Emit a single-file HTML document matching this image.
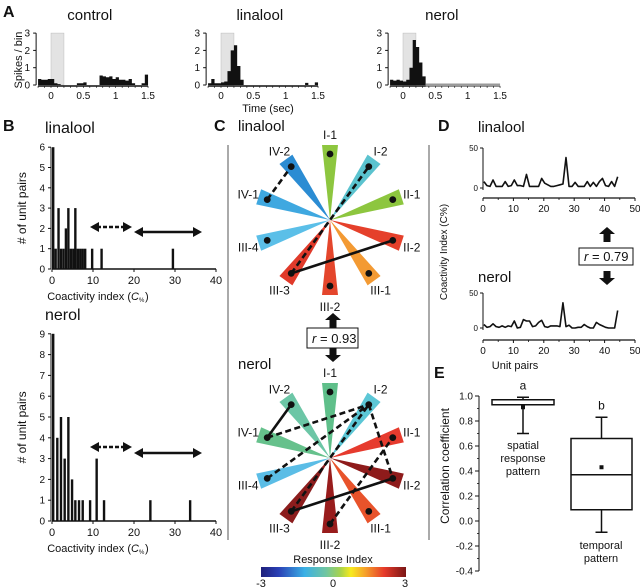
<!DOCTYPE html>
<html><head><meta charset="utf-8">
<style>
body{margin:0;background:#fff;}
svg{display:block;font-family:"Liberation Sans",Arial,sans-serif;}
</style></head>
<body>
<svg id="fig" width="640" height="588" viewBox="0 0 640 588" xmlns="http://www.w3.org/2000/svg">
<g id="root"></g>
</svg>
<script>
// ---------- DATA ----------
const psthBins = [-0.2,-0.15,-0.1,-0.05,0,0.05,0.1,0.15,0.2,0.25,0.3,0.35,0.4,0.45,0.5,0.55,0.6,0.65,0.7,0.75,0.8,0.85,0.9,0.95,1.0,1.05,1.1,1.15,1.2,1.25,1.3,1.35,1.4,1.45];
const psthControl = [0.35,0.3,0.3,0.35,0.35,0.1,0.05,0,0,0,0,0,0.1,0.1,0.15,0,0,0,0,0.55,0.5,0.45,0.5,0.35,0.45,0.3,0.3,0.25,0.35,0.1,0,0,0.1,0.6];
const psthLinalool = [0.1,0.35,0.1,0.1,0.15,0.2,0.8,2.0,2.3,1.1,0.3,0,0,0,0,0,0,0,0,0,0,0,0,0,0,0,0,0,0,0,0.12,0,0,0.15];
const psthNerol = [0.3,0.25,0.3,0.25,0.2,0.3,1.0,2.6,2.2,1.3,0.5,0,0,0,0,0,0,0,0,0,0,0,0,0,0,0,0,0,0,0,0,0,0,0];
const psthTicks = [0,0.5,1,1.5];
const psthYTicks = [0,1,2,3];

const histLinX = [0,0.6,1.3,1.9,2.5,3.1,3.7,4.3,4.9,5.4,6.0,6.6,7.2,7.8,9.5,11.8,29.2];
const histLinN = [6,1,3,1,1,2,3,1,1,3,1,1,1,1,1,1,1];
const histNerX = [0,1,1.9,2.8,3.7,4.6,5.4,6.3,7.2,9,10.6,12.4,23.7,33.4];
const histNerN = [9,4,5,3,5,2,1,1,1,1,3,1,1,1];
const histXTicks = [0,10,20,30,40];

const spokeNames = ['I-1','I-2','II-1','II-2','III-1','III-2','III-3','III-4','IV-1','IV-2'];
const linColors = ['#8dc63f','#5bc3cf','#8dc63f','#e5402b','#f39a33','#e4462c','#e03a2a','#5bbfe8','#3fa8e0','#2b8cd3'];
const nerColors = ['#5fbf8a','#5cc7d6','#e63b2e','#8e1b1b','#e8532b','#981c1c','#8c1d1d','#5bbde6','#66c18c','#6cc6a6'];
const linSolid = [['III-3','II-2']];
const linDashed = [['IV-1','IV-2'],['III-3','I-2']];
const nerSolid = [['IV-1','IV-2'],['III-3','II-2']];
const nerDashed = [['IV-1','I-2'],['III-4','I-2'],['I-2','II-2'],['III-2','II-1'],['III-3','I-2']];

const coLin = [8,3,2,10,2,2,2,8,2,3,10,3,3,2,17,2,2,2,2,12,6,4,2,2,3,4,5,38,2,2,7,2,2,2,8,2,7,2,8,12,3,2,8,2,14];
const coNer = [5,1,2,6,2,1,3,1,3,2,10,0,1,12,10,10,2,3,8,11,2,1,3,3,3,2,36,2,4,0,0,1,1,5,2,0,0,8,5,3,1,0,0,0,25];
const coXTicks = [0,10,20,30,40,50];

const boxNames = ['spatial','temporal'];
const boxQ1 = [0.93,0.09];
const boxQ3 = [0.97,0.66];
const boxMed = [0.93,0.37];
const boxMean = [0.91,0.43];
const boxLo = [0.70,-0.09];
const boxHi = [0.99,0.83];
const boxYTicks = [-0.4,-0.2,0.0,0.2,0.4,0.6,0.8,1.0];

// ---------- HELPERS ----------
const NS='http://www.w3.org/2000/svg';
const root=document.getElementById('root');
function mk(tag, attrs, parent){
  const e=document.createElementNS(NS,tag);
  for(const k in attrs) e.setAttribute(k,attrs[k]);
  (parent||root).appendChild(e);
  return e;
}
function txt(s,x,y,size,anchor,extra){
  const e=mk('text',Object.assign({x:x,y:y,'font-size':size,'text-anchor':anchor||'middle',fill:'#111'},extra||{}));
  e.textContent=s;
  return e;
}
function line(x1,y1,x2,y2,w,dash,color){
  const a={x1:x1,y1:y1,x2:x2,y2:y2,stroke:color||'#111','stroke-width':w||1};
  if(dash) a['stroke-dasharray']=dash;
  return mk('line',a);
}

// ---------- PANEL A ----------
let e;
e=txt('A',3,17,16,'start',{'font-weight':'bold'});


e=txt('Spikes / bin',22,60,11,'middle',{transform:'rotate(-90 22 60)'});


e=txt('Time (sec)',268,112,11);



function drawPSTH(x0,vals,title,key,grayTail){
  const xs=t=>x0+t*64.7, ys=v=>85-v*17.3;
  e=txt(title,xs(0.6),20,15);
  
  
  e=mk('rect',{x:xs(0),y:ys(3),width:xs(0.2)-xs(0),height:ys(0)-ys(3),fill:'#e3e3e3',stroke:'#bbb','stroke-width':0.5});
  
  
  let d='M'+xs(psthBins[0])+','+ys(0);
  for(let i=0;i<vals.length;i++){
    d+=' L'+xs(psthBins[i])+','+ys(vals[i])+' L'+xs(psthBins[i]+0.05)+','+ys(vals[i]);
  }
  d+=' L'+xs(1.5)+','+ys(0)+' Z';
  e=mk('path',{d:d,fill:'#111'});
  
  
  e=line(xs(-0.2),86,xs(1.5),86,1.5);
  
  
  if(grayTail){
    e=line(xs(0.35),85,xs(1.5),85,3,null,'#9a9a9a');
    
    
  }
  for(let t=-0.2;t<=1.501;t+=0.1){
    line(xs(t),86,xs(t),88,0.6);
  }
  psthTicks.forEach(t=>{
    e=txt(String(t),xs(t),99,10);
    
    
  });
  const ax=xs(-0.23);
  e=line(ax,ys(0),ax,ys(3),1);
  
  
  psthYTicks.forEach(v=>{
    line(ax-3,ys(v),ax,ys(v),1);
    e=txt(String(v),ax-6,ys(v)+3.5,10,'end');
    
    
  });
}
drawPSTH(51,psthControl,'control','control',false);
drawPSTH(221,psthLinalool,'linalool','linalool',false);
drawPSTH(403,psthNerol,'nerol','nerol',true);

// ---------- PANEL B ----------
e=txt('B',3,131,16,'start',{'font-weight':'bold'});


function dblArrow(x1,x2,y,dashed,w){
  const g=mk('g',{});
  const a={x1:x1+7,y1:y,x2:x2-7,y2:y,stroke:'#111','stroke-width':w};
  if(dashed) a['stroke-dasharray']='4,2';
  mk('line',a,g);
  mk('polygon',{points:`${x1},${y} ${x1+9},${y-5} ${x1+9},${y+5}`,fill:'#111'},g);
  mk('polygon',{points:`${x2},${y} ${x2-9},${y-5} ${x2-9},${y+5}`,fill:'#111'},g);
  return g;
}
function drawHist(y0,unit,maxN,xsArr,ns,title,titleY,key,arrY1,arrY2){
  const xs=v=>52+v*4.1, ys=n=>y0-n*unit;
  e=txt(title,45,titleY,16,'start');
  
  
  for(let i=0;i<xsArr.length;i++){
    e=mk('rect',{x:xs(xsArr[i]),y:ys(ns[i]),width:2.4,height:ys(0)-ys(ns[i]),fill:'#111'});
    
    
  }
  e=line(xs(0),y0,xs(40),y0,1.5);
  
  
  histXTicks.forEach(v=>{
    line(xs(v),y0,xs(v),y0+3,1);
    e=txt(String(v),xs(v),y0+15,11);
    
    
  });
  e=txt('Coactivity index (',131,y0+31,11,'end');
  
  
  e=txt('C',131,y0+31,11,'start',{'font-style':'italic'});
  txt('%',139,y0+33,6,'start');
  txt(')',145,y0+31,11,'start');
  e=line(xs(0)-1,ys(0),xs(0)-1,ys(maxN),1);
  
  
  for(let n=0;n<=maxN;n++){
    line(xs(0)-4,ys(n),xs(0)-1,ys(n),1);
    e=txt(String(n),xs(0)-7,ys(n)+3.5,10,'end');
    
    
  }
  e=txt('# of unit pairs',26,(ys(0)+ys(maxN))/2,12,'middle',{transform:`rotate(-90 26 ${(ys(0)+ys(maxN))/2})`});
  
  
  e=dblArrow(90,132,arrY1,true,2.5);
  
  
  e=dblArrow(134,202,arrY2,false,2.5);
  
  
}
drawHist(269,20.3,6,histLinX,histLinN,'linalool',133,'linalool',227,232);
drawHist(521,20.8,9,histNerX,histNerN,'nerol',320,'nerol',447,453);

e=line(228,145,228,540,1,null,'#555');


e=line(429,145,429,540,1,null,'#555');



// ---------- PANEL C ----------
e=txt('C',214,131,16,'start',{'font-weight':'bold'});


function drawWheel(cx,cy,colors,solid,dashed,title,titleY,key){
  e=txt(title,238,titleY,15,'start');
  
  
  const pos={};
  for(let i=0;i<spokeNames.length;i++){
    const a=i*36*Math.PI/180;
    const ux=Math.sin(a), uy=-Math.cos(a), px=Math.cos(a), py=Math.sin(a);
    const R=75, hw=8;
    const ex=cx+ux*R, ey=cy+uy*R;
    e=mk('polygon',{points:`${cx},${cy} ${ex+px*hw},${ey+py*hw} ${ex-px*hw},${ey-py*hw}`,fill:colors[i]});
    
    
    const dx=cx+ux*66, dy=cy+uy*66;
    pos[spokeNames[i]]=[dx,dy];
    const lx=cx+ux*86, ly=cy+uy*86;
    e=txt(spokeNames[i],lx,ly+5,12);
    
    
  }
  dashed.forEach(p=>{
    const a=pos[p[0]],b=pos[p[1]];
    e=line(a[0],a[1],b[0],b[1],2.6,'6,3.5');
    
    
  });
  solid.forEach(p=>{
    const a=pos[p[0]],b=pos[p[1]];
    e=line(a[0],a[1],b[0],b[1],2.6);
    
    
  });
  spokeNames.forEach(n=>{
    e=mk('circle',{cx:pos[n][0],cy:pos[n][1],r:3.4,fill:'#111'});
    
    
  });
}
drawWheel(330,220,linColors,linSolid,linDashed,'linalool',131,'linalool');
drawWheel(330,458,nerColors,nerSolid,nerDashed,'nerol',369,'nerol');

function thickArrow(x,yTip,dir,len){
  const h=7*dir;
  return mk('polygon',{points:`${x},${yTip} ${x+8},${yTip+h} ${x+3.5},${yTip+h} ${x+3.5},${yTip+len*dir} ${x-3.5},${yTip+len*dir} ${x-3.5},${yTip+h} ${x-8},${yTip+h}`,fill:'#111'});
}
e=thickArrow(333,313,1,15);


e=thickArrow(333,362,-1,14);


e=mk('rect',{x:307,y:328,width:51,height:20,fill:'#fff',stroke:'#111','stroke-width':1});


e=txt('r',312,343,13,'start',{'font-style':'italic'});


txt('= 0.93',320,343,13,'start');

const defs=mk('defs',{});
const grad=mk('linearGradient',{id:'jet',x1:0,x2:1,y1:0,y2:0},defs);
[['0','#1f1f7a'],['0.12','#2a3fb5'],['0.3','#3ab0e6'],['0.45','#70c6a0'],['0.55','#a9d34a'],['0.62','#f7ea1e'],['0.72','#f6a02a'],['0.85','#e63a2a'],['1','#7a1616']].forEach(s=>mk('stop',{offset:s[0],'stop-color':s[1]},grad));
e=mk('rect',{x:261,y:567,width:145,height:10,fill:'url(#jet)'});


e=txt('Response Index',333,563,11);


[['-3',261],['0',333],['3',405]].forEach(t=>{
  e=txt(t[0],t[1],587,11);
  
  
});

// ---------- PANEL D ----------
e=txt('D',438,131,16,'start',{'font-weight':'bold'});


function drawCo(y0,unit,axisY,vals,title,titleY,key){
  const xs=i=>483+i*3.04, ys=v=>y0-v*unit;
  e=txt(title,478,titleY,15,'start');
  
  
  e=mk('polyline',{points:vals.map((v,i)=>xs(i+0.3)+','+ys(v)).join(' '),fill:'none',stroke:'#111','stroke-width':1.6,'stroke-linejoin':'round'});
  
  
  e=line(483,ys(0)+2,483,ys(50),1);
  
  
  [0,50].forEach(v=>{
    line(480,ys(v),483,ys(v),1);
    e=txt(String(v),478,ys(v)+3,8,'end');
    
    
  });
  e=line(483,axisY,xs(50),axisY,1.2);
  
  
  coXTicks.forEach(v=>{
    line(xs(v),axisY,xs(v),axisY+3,1);
    e=txt(String(v),xs(v),axisY+14,10);
    
    
  });
  for(let v=5;v<50;v+=10) line(xs(v),axisY,xs(v),axisY+2,0.8);
}
drawCo(188,0.8,198,coLin,'linalool',132,'linalool');
drawCo(328,0.7,340,coNer,'nerol',282,'nerol');
e=txt('Unit pairs',515,369,11);


e=txt('Coactivity Index (C%)',447,252,10,'middle',{transform:'rotate(-90 447 252)'});


e=thickArrow(607,227,1,15);


e=thickArrow(607,285,-1,14);


e=mk('rect',{x:579,y:248,width:54,height:17,fill:'#fff',stroke:'#111','stroke-width':1});


e=txt('r',584,261,13,'start',{'font-style':'italic'});


txt('= 0.79',592,261,13,'start');

// ---------- PANEL E ----------
e=txt('E',434,378,16,'start',{'font-weight':'bold'});


const yE=v=>521-v*125;
e=line(479,yE(-0.4),479,yE(1.0),1);


boxYTicks.forEach(v=>{
  line(475,yE(v),479,yE(v),1);
  e=txt(v.toFixed(1),473,yE(v)+3.5,10,'end');
  
  
});
for(let v=-0.3;v<1.0;v+=0.2) line(477,yE(v),479,yE(v),0.8);
e=txt('Correlation coefficient',449,466,12,'middle',{transform:'rotate(-90 449 466)'});


const boxX=[492,571], boxW=[62,61];
const boxLetter=['a','b'];
for(let i=0;i<2;i++){
  const cx=boxX[i]+boxW[i]/2;
  e=line(cx,yE(boxHi[i]),cx,yE(boxLo[i]),1.5);
  
  
  line(cx-6,yE(boxHi[i]),cx+6,yE(boxHi[i]),1.5);
  line(cx-6,yE(boxLo[i]),cx+6,yE(boxLo[i]),1.5);
  e=mk('rect',{x:boxX[i],y:yE(boxQ3[i]),width:boxW[i],height:yE(boxQ1[i])-yE(boxQ3[i]),fill:'#fff',stroke:'#111','stroke-width':1.5});
  
  
  e=line(boxX[i],yE(boxMed[i]),boxX[i]+boxW[i],yE(boxMed[i]),1.5);
  
  
  e=mk('rect',{x:cx-2,y:yE(boxMean[i])-2,width:4,height:4,fill:'#111'});
  
  
  e=txt(boxLetter[i],cx,yE(boxHi[i])-8,12);
  
  
}
[['spatial',449],['response',462],['pattern',475]].forEach(t=>{
  e=txt(t[0],523,t[1],11);
  
  
});
[['temporal',549],['pattern',562]].forEach(t=>{
  e=txt(t[0],601,t[1],11);
  
  
});
</script>
</body></html>
